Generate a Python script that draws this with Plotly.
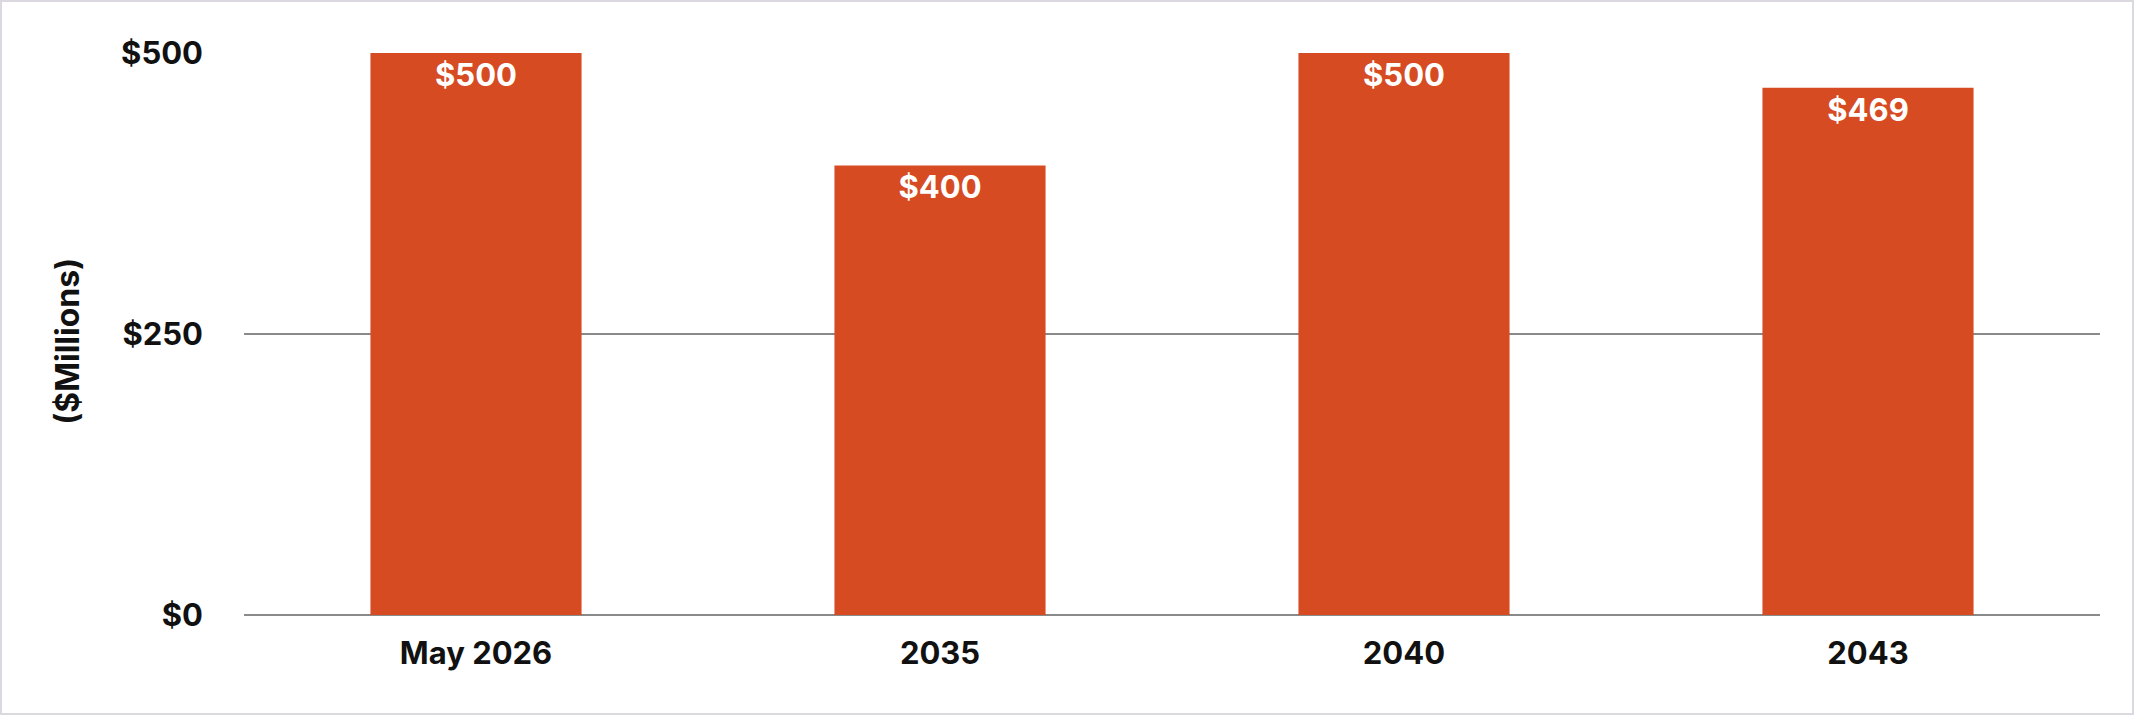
import plotly.graph_objects as go

categories = ["May 2026", "2035", "2040", "2043"]
values = [500, 400, 500, 469]
tick_vals = [0, 250, 500]
tick_text = ["$0", "$250", "$500"]
y_title = "($Millions)"

bar_color = "#D64B22"
font_family = "Inter"

W, H = 2135, 716
L, R, T, B = 244, 35, 53, 101
pw, ph = W - L - R, H - T - B

fig = go.Figure()
fig.add_trace(go.Bar(
    x=categories,
    y=values,
    marker=dict(color=bar_color, line=dict(width=0)),
    text=[f"${v}" for v in values],
    textposition="inside",
    insidetextanchor="end",
    textangle=0,
    constraintext="none",
    textfont=dict(color="white", size=31, family=font_family, weight="bold"),
    hoverinfo="skip",
))

fig.update_layout(
    width=W,
    height=H,
    paper_bgcolor="white",
    plot_bgcolor="white",
    margin=dict(l=L, r=R, t=T, b=B),
    bargap=0.545,
    showlegend=False,
    font=dict(family=font_family, color="#111111"),
)
fig.update_xaxes(
    showgrid=False,
    showline=False,
    ticks="",
    tickfont=dict(size=31, family=font_family, color="#111111", weight="bold"),
    ticklabelstandoff=17,
)
fig.update_yaxes(
    range=[0, 500],
    tickvals=tick_vals,
    ticktext=tick_text,
    showgrid=True,
    gridcolor="#8a8a8a",
    gridwidth=2,
    zeroline=True,
    zerolinecolor="#8a8a8a",
    zerolinewidth=2,
    showline=False,
    ticks="",
    tickfont=dict(size=31, family=font_family, color="#111111", weight="bold"),
    ticklabelstandoff=40,
)
fig.add_annotation(
    text=y_title, xref="paper", yref="paper",
    x=(68 - L) / pw, y=0.486, xanchor="center", yanchor="middle",
    textangle=-90, showarrow=False,
    font=dict(size=32, family=font_family, color="#111111", weight="bold"),
)
fig.add_shape(type="rect", xref="paper", yref="paper",
              x0=(1 - L) / pw, x1=1 + (R - 2) / pw,
              y0=-(B - 2) / ph, y1=1 + (T - 1) / ph,
              line=dict(color="#dcd8e0", width=2), fillcolor="rgba(0,0,0,0)", layer="below")

fig.write_html("out.html", config={"displayModeBar": False},
               post_script="document.body.style.margin='0';")
